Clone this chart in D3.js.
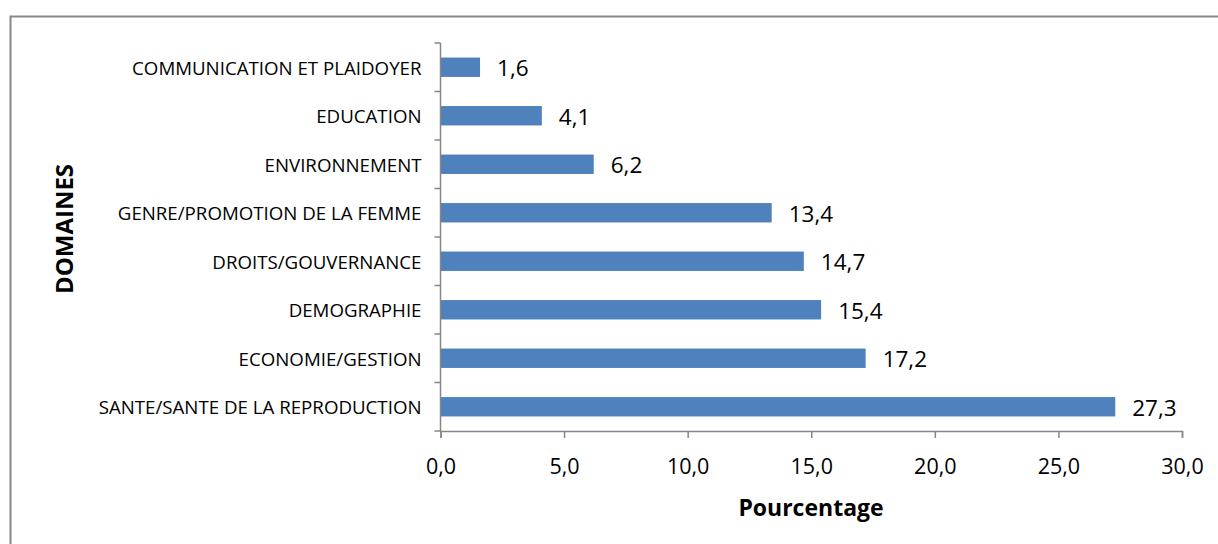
<!DOCTYPE html>
<html>
<head>
<meta charset="utf-8">
<script src="https://cdn.jsdelivr.net/npm/d3@7"></script>
<style>
  body { margin: 0; background: #fff; }
  text { font-family: "Open Sans", sans-serif; fill: #000; }
</style>
</head>
<body>
<div id="chart"></div>
<script>
// data, top to bottom
var domaines = ["COMMUNICATION ET PLAIDOYER", "EDUCATION", "ENVIRONNEMENT",
    "GENRE/PROMOTION DE LA FEMME", "DROITS/GOUVERNANCE", "DEMOGRAPHIE",
    "ECONOMIE/GESTION", "SANTE/SANTE DE LA REPRODUCTION"];
var pourcentages = [1.6, 4.1, 6.2, 13.4, 14.7, 15.4, 17.2, 27.3];
var xTicks = [0, 5, 10, 15, 20, 25, 30];

var W = 1218, H = 544;
var margin = { top: 43, right: 36, bottom: 113, left: 440.5 },
    width = 1182 - margin.left,
    height = 431 - margin.top;

var svg = d3.select("#chart").append("svg")
    .attr("width", W)
    .attr("height", H);

// outer frame (only top and left visible)
svg.append("path")
    .attr("d", "M10.5," + (H + 5) + "V16.5H" + (W + 5))
    .attr("fill", "none")
    .attr("stroke", "#888")
    .attr("stroke-width", 2);

var g = svg.append("g")
    .attr("transform", "translate(" + margin.left + "," + margin.top + ")");

var x = d3.scaleLinear().domain([0, 30]).range([0, width]);
var y = d3.scaleBand().domain(domaines).range([0, height]).paddingInner(0.6).paddingOuter(0.3);
var yb = d3.scaleBand().domain(domaines).range([0, height]);

var fmt = function (v) { return d3.format(".1f")(v).replace(".", ","); };

// bars
g.selectAll(".bar")
    .data(domaines)
    .enter().append("rect")
    .attr("class", "bar")
    .attr("x", 0)
    .attr("y", function (d) { return y(d); })
    .attr("width", function (d, i) { return x(pourcentages[i]); })
    .attr("height", y.bandwidth())
    .attr("fill", "#4f81bd");

// value labels
g.selectAll(".val")
    .data(domaines)
    .enter().append("text")
    .attr("class", "val")
    .attr("x", function (d, i) { return x(pourcentages[i]) + 17; })
    .attr("y", function (d) { return y(d) + y.bandwidth() / 2 + 1; })
    .attr("dy", "0.35em")
    .style("font-size", "22.5px")
    .text(function (d, i) { return fmt(pourcentages[i]); });

// y axis: ticks at category boundaries
var yAxis = g.append("g");
yAxis.append("line")
    .attr("x1", 0).attr("x2", 0).attr("y1", 0).attr("y2", height)
    .attr("stroke", "#868686").attr("stroke-width", 1.5);
yAxis.selectAll(".ytick")
    .data(domaines.concat([null]))
    .enter().append("line")
    .attr("x1", -6).attr("x2", 0)
    .attr("y1", function (d, i) { return i * yb.step(); })
    .attr("y2", function (d, i) { return i * yb.step(); })
    .attr("stroke", "#868686").attr("stroke-width", 1.5);
yAxis.selectAll(".ylab")
    .data(domaines)
    .enter().append("text")
    .attr("x", -19)
    .attr("y", function (d) { return yb(d) + yb.bandwidth() / 2 + 1; })
    .attr("dy", "0.35em")
    .attr("text-anchor", "end")
    .style("font-size", "18.7px")
    .text(function (d) { return d; });

// x axis
var xAxis = g.append("g")
    .attr("transform", "translate(0," + height + ")")
    .call(d3.axisBottom(x).tickValues(xTicks).tickSize(7).tickPadding(21).tickFormat(fmt));
xAxis.select(".domain").attr("stroke", "#868686").attr("stroke-width", 1.5);
xAxis.selectAll(".tick line").attr("stroke", "#868686").attr("stroke-width", 1.5);
xAxis.selectAll(".tick text")
    .style("font-size", "21.5px")
    .style("font-family", "'Open Sans', sans-serif")
    .attr("fill", "#000");

// axis titles
svg.append("text")
    .attr("x", 811)
    .attr("y", 508)
    .attr("dy", "0.35em")
    .attr("text-anchor", "middle")
    .style("font-size", "23px")
    .style("font-weight", "bold")
    .text("Pourcentage");

svg.append("text")
    .attr("transform", "translate(65,229) rotate(-90)")
    .attr("dy", "0.35em")
    .attr("text-anchor", "middle")
    .style("font-size", "24px")
    .style("font-weight", "bold")
    .text("DOMAINES");
</script>
</body>
</html>
